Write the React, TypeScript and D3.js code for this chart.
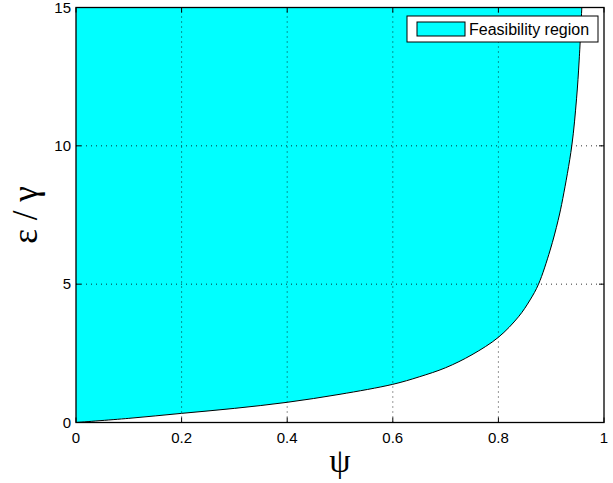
import React from 'react'
import * as d3 from 'd3'

// boundary of the feasibility region
const psiValues = [0, 0.1, 0.2, 0.3, 0.4, 0.5, 0.6, 0.65, 0.7, 0.75, 0.8, 0.838, 0.86, 0.876, 0.898, 0.913, 0.922, 0.939, 0.948, 0.953, 0.958]
const epsValues = [0, 0.15, 0.33, 0.51, 0.73, 1.02, 1.38, 1.65, 1.98, 2.45, 3.08, 3.82, 4.43, 5.0, 6.23, 7.3, 8.1, 10, 11.7, 13.1, 15]
const xTicks = [0, 0.2, 0.4, 0.6, 0.8, 1]
const yTicks = [0, 5, 10, 15]
const legendLabel = 'Feasibility region'

const W = 613
const H = 483
const m = { left: 76, right: 9, top: 7.5, bottom: 60.5 }

export default function App() {
  const x = d3.scaleLinear().domain([0, 1]).range([m.left, W - m.right])
  const y = d3.scaleLinear().domain([0, 15]).range([H - m.bottom, m.top])
  const pts = psiValues.map((p, i) => [p, epsValues[i]] as [number, number])

  const line = d3.line<[number, number]>()
    .x(d => x(d[0]))
    .y(d => y(d[1]))
    .curve(d3.curveCatmullRom.alpha(0.5))

  const x0 = x.range()[0], x1 = x.range()[1]
  const y0 = y.range()[0], y1 = y.range()[1]
  const curveD = line(pts) || ''
  // close the region along the top edge and the left edge
  const fillPath = curveD + `L${x0},${y1}Z`
  const tk = 5
  const font = 'Helvetica, Arial, "Liberation Sans", sans-serif'

  return (
    <svg width={W} height={H} style={{ position: 'absolute', left: 0, top: 0, background: '#fff' }}>
      <path d={fillPath} fill="#00ffff" stroke="none" />
      <path d={curveD} fill="none" stroke="#000" strokeWidth={1} />

      {/* grid */}
      {xTicks.slice(1, -1).map(t => (
        <line key={'gx' + t} x1={x(t)} x2={x(t)} y1={y0} y2={y1} stroke="#000" strokeWidth={1} strokeDasharray="1,4" opacity={0.8} />
      ))}
      {yTicks.slice(1, -1).map(t => (
        <line key={'gy' + t} x1={x0} x2={x1} y1={y(t)} y2={y(t)} stroke="#000" strokeWidth={1} strokeDasharray="1,4" opacity={0.8} />
      ))}

      {/* ticks, inward on all four sides */}
      {xTicks.map(t => (
        <g key={'tx' + t}>
          <line x1={x(t)} x2={x(t)} y1={y0} y2={y0 - tk} stroke="#000" />
          <line x1={x(t)} x2={x(t)} y1={y1} y2={y1 + tk} stroke="#000" />
          <text x={x(t)} y={y0 + 20} textAnchor="middle" fontFamily={font} fontSize={15}>{t}</text>
        </g>
      ))}
      {yTicks.map(t => (
        <g key={'ty' + t}>
          <line x1={x0} x2={x0 + tk} y1={y(t)} y2={y(t)} stroke="#000" />
          <line x1={x1} x2={x1 - tk} y1={y(t)} y2={y(t)} stroke="#000" />
          <text x={x0 - 5} y={y(t) + 5} textAnchor="end" fontFamily={font} fontSize={15}>{t}</text>
        </g>
      ))}

      <rect x={x0} y={y1} width={x1 - x0} height={y0 - y1} fill="none" stroke="#000" strokeWidth={1.3} />

      {/* axis labels */}
      <text x={(x0 + x1) / 2} y={472} textAnchor="middle" fontFamily='"Liberation Serif", serif' fontSize={34}>ψ</text>
      <text transform={`translate(37, ${(y0 + y1) / 2}) rotate(-90)`} textAnchor="middle" fontFamily='"Liberation Serif", serif' fontSize={35}>ε / γ</text>

      {/* legend */}
      <rect x={407} y={16} width={191} height={26} fill="#fff" stroke="#000" strokeWidth={1} />
      <rect x={417} y={22} width={48} height={14} fill="#00ffff" stroke="#000" strokeWidth={1} />
      <text x={469} y={35} fontFamily={font} fontSize={16}>{legendLabel}</text>
    </svg>
  )
}
